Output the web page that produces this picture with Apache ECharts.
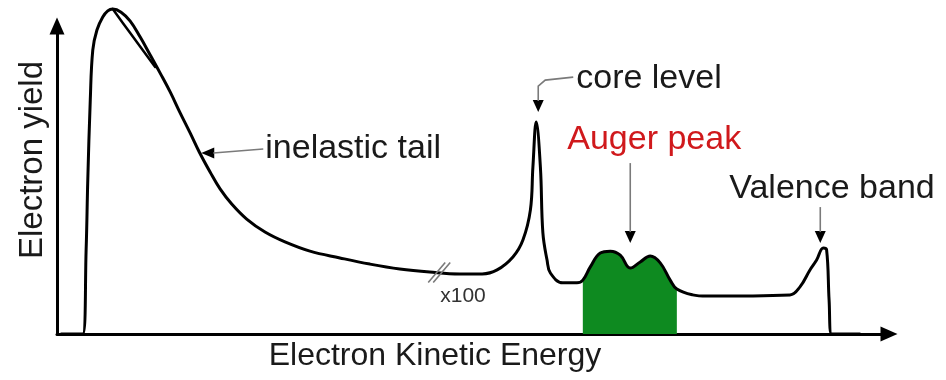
<!DOCTYPE html>
<html>
<head>
<meta charset="utf-8">
<script src="https://cdn.jsdelivr.net/npm/echarts@6/dist/echarts.min.js"></script>
<style>
  html, body { margin: 0; padding: 0; background: #ffffff; }
  #chart { width: 946px; height: 380px; }
</style>
</head>
<body>
<div id="chart"></div>
<script>
// Electron spectrum, arbitrary units on both axes.
const energy = [
  0.5, 3.1, 3.5, 3.7, 4.0, 4.3, 4.8, 5.5, 6.1, 6.7, 7.7, 8.8, 10.0, 11.2, 12.4,
  13.6, 14.8, 16.0, 17.1, 18.4, 19.6, 21.0, 22.8, 25.0, 27.4, 30.4, 34.0, 37.6,
  41.2, 44.8, 48.4, 51.1, 52.9, 54.8, 56.0, 56.9, 57.2, 57.6, 58.1, 58.4, 58.9,
  59.3, 60.8, 62.5, 63.2, 64.1, 65.3, 66.5, 67.7, 68.9, 70.1, 71.3, 72.5, 73.7,
  74.5, 76.4, 78.1, 88.1, 89.3, 90.5, 91.3, 92.1, 92.5, 92.8, 93.1, 96.5
];
const electronYield = [
  0, 0, 27.3, 50.0, 76.0, 92.2, 98.7, 102.9, 104.9, 105.5, 104.5, 101.6, 96.4, 90.6, 84.7,
  78.6, 71.8, 65.3, 59.1, 52.6, 47.1, 42.2, 37.3, 33.1, 29.9, 26.9, 24.7, 22.7,
  21.1, 20.1, 19.5, 19.5, 20.8, 25.0, 30.5, 40.3, 54.2, 68.8, 54.2, 32.8, 24.0,
  19.8, 16.6, 16.6, 17.5, 21.8, 26.3, 26.9, 25.6, 21.4, 23.4, 25.3, 23.1, 17.5,
  14.6, 12.7, 12.3, 12.7, 15.3, 20.8, 24.0, 27.9, 27.3, 11.0, 0, 0
];
// Second stroke on the upper slope of the secondary-electron maximum
const innerEnergy = [6.7, 8.8, 11.8];
const innerYield = [105.5, 97.7, 86.7];
// Shaded Auger band and position of the scale break
const augerRange = [63.2, 74.5];
const breakEnergy = 45.7;

const FONT = '"Liberation Sans", Arial, sans-serif';
const INK = '#1a1a1a';
const LEADER = '#7a7a7a';

const trace = energy.map((e, i) => [e, electronYield[i]]);
const inner = innerEnergy.map((e, i) => [e, innerYield[i]]);
const augerBand = trace.filter(p => p[0] >= augerRange[0] && p[0] <= augerRange[1]);

const chart = echarts.init(document.getElementById('chart'), null, { renderer: 'canvas' });

const axisLine = {
  show: true,
  symbol: ['none', 'triangle'],
  symbolSize: [15, 17],
  lineStyle: { color: '#000', width: 3 }
};

chart.setOption({
  animation: false,
  backgroundColor: '#ffffff',
  grid: { left: 57, right: 57, top: 26, bottom: 46 },
  xAxis: {
    type: 'value', min: 0, max: 100,
    axisLine: axisLine,
    axisTick: { show: false }, axisLabel: { show: false }, splitLine: { show: false },
    name: 'Electron Kinetic Energy',
    nameLocation: 'middle',
    nameGap: 6,
    nameTextStyle: { fontFamily: FONT, fontSize: 32, color: INK, verticalAlign: 'top', padding: [0, 76, 0, 0] }
  },
  yAxis: {
    type: 'value', min: 0, max: 100,
    axisLine: axisLine,
    axisTick: { show: false }, axisLabel: { show: false }, splitLine: { show: false },
    name: 'Electron yield',
    nameLocation: 'middle',
    nameRotate: 90,
    nameGap: 8,
    nameTextStyle: { fontFamily: FONT, fontSize: 33, color: INK, padding: [0, 0, 0, 40] }
  },
  series: [
    {
      name: 'Auger peak',
      type: 'line',
      data: augerBand,
      smooth: 0.4,
      symbol: 'none',
      clip: false,
      lineStyle: { width: 0 },
      areaStyle: { color: '#0e8a20', opacity: 1 },
      z: 1
    },
    {
      name: 'Spectrum',
      type: 'line',
      data: trace,
      smooth: 0.4,
      symbol: 'none',
      clip: false,
      lineStyle: { color: '#000', width: 3, join: 'round', cap: 'round' },
      z: 3
    },
    {
      name: 'Spectrum (inner stroke)',
      type: 'line',
      data: inner,
      smooth: 0.3,
      symbol: 'none',
      clip: false,
      lineStyle: { color: '#000', width: 2.5, cap: 'round' },
      z: 3
    }
  ]
});

// ---- annotations anchored to features of the trace ----
const toPx = p => chart.convertToPixel({ gridIndex: 0 }, p);

function argMax(lo, hi) {
  let best = -1;
  trace.forEach((p, i) => {
    if (p[0] >= lo && p[0] <= hi && (best < 0 || p[1] > trace[best][1])) best = i;
  });
  return best;
}
function localMinIn(lo, hi) {
  for (let i = 1; i < trace.length - 1; i++) {
    const p = trace[i];
    if (p[0] > lo && p[0] < hi && p[1] < trace[i - 1][1] && p[1] < trace[i + 1][1]) return i;
  }
  return -1;
}
function yieldAt(e) {
  for (let i = 1; i < trace.length; i++) {
    if (trace[i][0] >= e) {
      const a = trace[i - 1], b = trace[i];
      return a[1] + (b[1] - a[1]) * (e - a[0]) / (b[0] - a[0]);
    }
  }
  return 0;
}

const mainPeak = argMax(0, 30);
const tailPoint = trace.findIndex((p, i) => i > mainPeak && p[1] < 60);
const corePeak = argMax(50, 62);
const augerDip = localMinIn(augerRange[0], augerRange[1]);
const valencePeak = argMax(85, 100);

const T = toPx(trace[tailPoint]);
const C = toPx(trace[corePeak]);
const A = toPx(trace[augerDip]);
const V = toPx(trace[valencePeak]);
const B = toPx([breakEnergy, yieldAt(breakEnergy)]);

const leader = (pts) => ({
  type: 'polyline', silent: true, z: 10,
  shape: { points: pts },
  style: { stroke: LEADER, lineWidth: 1.6, fill: null }
});
const headDown = (x, y) => ({
  type: 'polygon', silent: true, z: 10,
  shape: { points: [[x, y], [x - 5.5, y - 12], [x + 5.5, y - 12]] },
  style: { fill: '#000' }
});
const headLeft = (x, y) => ({
  type: 'polygon', silent: true, z: 10,
  shape: { points: [[x, y], [x + 13, y - 5.5], [x + 13, y + 5.5]] },
  style: { fill: '#000' }
});
// text placed by its alphabetic baseline
const label = (txt, x, baseline, size, color) => ({
  type: 'text', silent: true, z: 10,
  style: {
    text: txt, x: x, y: baseline - 0.35 * size,
    fill: color, font: size + 'px ' + FONT,
    align: 'left', verticalAlign: 'middle',
    textAlign: 'left', textVerticalAlign: 'middle'
  }
});

const tip1 = [T[0] + 2, T[1] + 1];
const tip2 = [C[0] + 2, C[1] - 10];
const tip3 = [A[0], A[1] - 25];
const tip4 = [V[0] - 3, V[1] - 5];

chart.setOption({
  graphic: [
    // inelastic tail
    headLeft(tip1[0], tip1[1]),
    leader([[tip1[0] + 12, tip1[1]], [tip1[0] + 62, tip1[1] - 4]]),
    label('inelastic tail', tip1[0] + 64, tip1[1] + 8, 34, INK),
    // core level
    headDown(tip2[0], tip2[1]),
    leader([[tip2[0], tip2[1] - 11], [tip2[0], tip2[1] - 26], [tip2[0] + 7, tip2[1] - 32], [tip2[0] + 35, tip2[1] - 35]]),
    label('core level', tip2[0] + 38, tip2[1] - 22, 34, INK),
    // Auger peak
    headDown(tip3[0], tip3[1]),
    leader([[tip3[0], tip3[1] - 11], [tip3[0], tip3[1] - 80]]),
    label('Auger peak', tip3[0] - 63, tip3[1] - 92, 34, '#d0191c'),
    // Valence band
    headDown(tip4[0], tip4[1]),
    leader([[tip4[0], tip4[1] - 11], [tip4[0], tip4[1] - 36]]),
    label('Valence band', tip4[0] - 91, tip4[1] - 43, 34, INK),
    // scale break on the trace
    leader([[B[0] - 9, B[1] + 10], [B[0] + 8, B[1] - 10]]),
    leader([[B[0] - 4, B[1] + 10], [B[0] + 13, B[1] - 10]]),
    label('x100', B[0] + 3, B[1] + 31, 21, '#333333')
  ]
});
</script>
</body>
</html>
